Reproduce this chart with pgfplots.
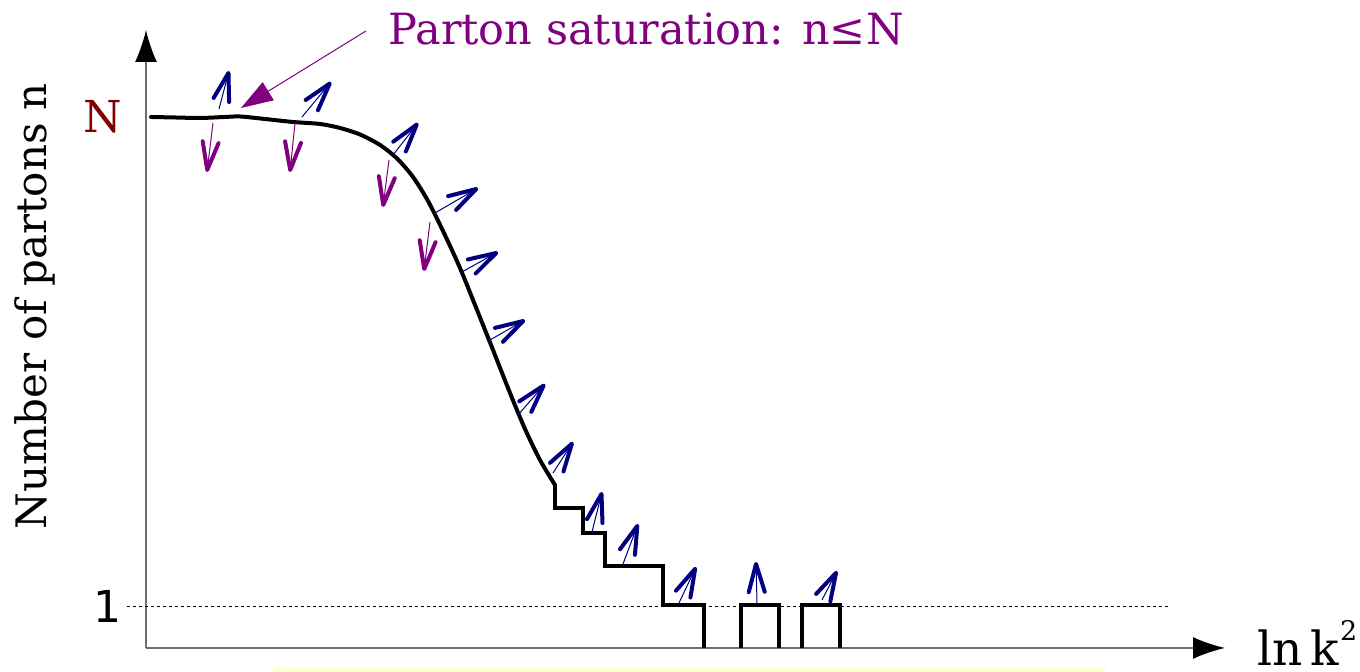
\documentclass[border=0pt]{standalone}
\usepackage{pgfplots}
\pgfplotsset{compat=1.18}
\usepackage{fontspec}
\setmainfont{DejaVu Serif}
\newfontfamily\digitfont{DejaVu Sans}
\usetikzlibrary{arrows.meta}
\definecolor{navyarrow}{RGB}{0,0,128}
\definecolor{satpurple}{RGB}{128,0,128}
\definecolor{levelred}{RGB}{128,0,0}
\definecolor{axisgray}{RGB}{110,110,110}
\definecolor{paleyellow}{RGB}{255,255,204}

\begin{document}
\begin{tikzpicture}
\begin{axis}[
  scale only axis, width=539.5pt, height=309pt,
  xmin=146, xmax=1225, ymin=24, ymax=642,
  axis lines=left,
  axis line style={axisgray, line width=0.8pt,
    -{Latex[length=16pt,width=11pt,color=black]}},
  xtick=\empty,
  ytick={66,555},
  yticklabels={{\digitfont 1\hspace{4.5pt}}, \textcolor{levelred}{N}},
  major tick length=0pt,
  yticklabel style={anchor=east, inner sep=0pt, xshift=-12pt,
    font=\fontsize{22}{26}\selectfont},
  clip=false,
  flux/.style={line width=0.5pt,
    -{Straight Barb[length=14pt,width=8pt,line width=2pt 0,round]}},
]
% bounding corners of the whole picture
\coordinate (bbA) at (axis cs:0,0);
\coordinate (bbB) at (axis cs:1360,672);

% level n = 1
\addplot[black, line width=0.5pt, dash pattern=on 1.5pt off 1.5pt]
  coordinates {(127,65.5) (1168,65.5)};

% smooth part of the parton density
\addplot[black, line width=2pt, smooth, line cap=round] coordinates {
  (151,555) (175,554.5) (200,554) (225,555) (240,555.5) (265,553)
  (293,550) (320,548) (340,544) (360,537.5) (380,527) (397,513.5)
  (413,495) (428,471) (443,441) (460,404) (477,362) (493,322)
  (510,279) (525,243) (540,212) (555,187)};

% dilute regime: staircase down to single partons
\addplot[black, line width=2pt, line join=miter] coordinates {
  (555,187) (555,164) (583,164) (583,139) (605,139) (605,106)
  (663,106) (663,67) (704,67) (704,24)};
\addplot[black, line width=2pt, line join=miter] coordinates {
  (741,24) (741,67) (779,67) (779,24)};
\addplot[black, line width=2pt, line join=miter] coordinates {
  (802,24) (802,67) (840,67) (840,24)};

% splitting (growth) arrows
\addplot[navyarrow, flux,
  quiver={u=\thisrow{u}, v=\thisrow{v}}] table {
  x   y   u   v
  219 563 10  38
  302 555 29  35
  393 517 25  32
  435 459 43  25
  460 399 38  21
  490 332 35  20
  518 257 27  31
  553 199 20  31
  592 140 10  40
  623 108 15  40
  679 69  17  36
  757 69  -1  41
  822 72  15  29
};

% recombination arrows
\addplot[satpurple, flux,
  quiver={u=\thisrow{u}, v=\thisrow{v}}] table {
  x   y   u   v
  213 549 -6  -49
  295 549 -5  -49
  389 512 -6  -47
  430 450 -6  -49
};

% annotation
\draw[satpurple, line width=0.5pt, -{Triangle[length=16pt,width=10.5pt]}]
  (axis cs:366,641) -- (axis cs:241,564);
\node[satpurple, anchor=base west, inner sep=0pt,
  font=\fontsize{21.5}{26}\selectfont] at (axis cs:388,627)
  {Parton saturation: n≤N};

% axis titles
\node[rotate=90, anchor=base, inner sep=0pt,
  font=\fontsize{21}{26}\selectfont] at (axis cs:47,366)
  {Number of partons n};
\node[anchor=base west, inner sep=0pt,
  font=\fontsize{23.5}{28}\selectfont] at (axis cs:1257,6.5)
  {ln\,k\hspace{0.5pt}\raisebox{12.5pt}{\fontsize{13.5}{14}\selectfont 2}};

\fill[paleyellow] (axis cs:274,0) rectangle (axis cs:1106,3.5);
\end{axis}
\pgfresetboundingbox
\path[use as bounding box] (bbA) rectangle (bbB);
\end{tikzpicture}
\end{document}
